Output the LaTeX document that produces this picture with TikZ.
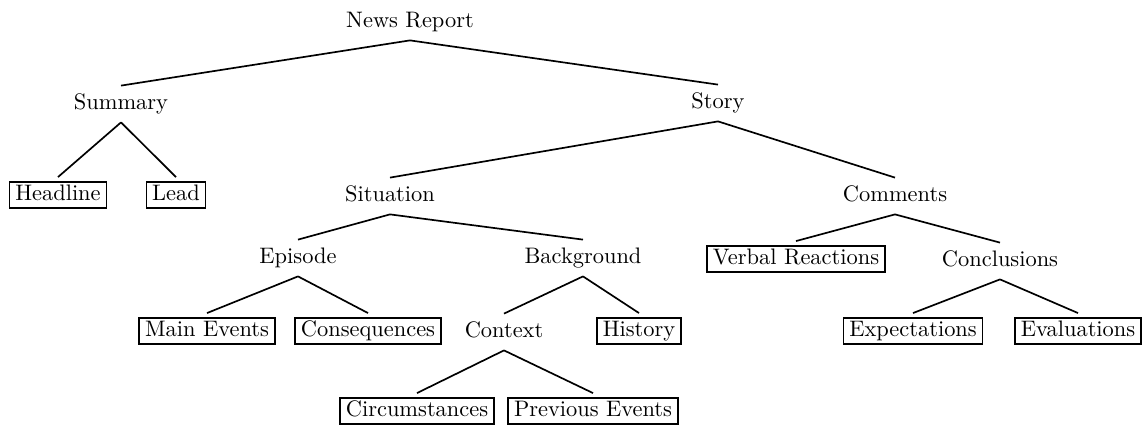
\documentclass[tikz,border=0pt]{standalone}
\usepackage{tikz}
\usetikzlibrary{positioning}

\tikzset{
  catnode/.style={inner xsep=2pt, inner ysep=3.5pt, text height=7pt, text depth=2pt},
  leafbox/.style={draw, line width=0.75pt, inner xsep=2.6pt, inner ysep=1.3pt, outer sep=2.2pt,
                  text height=7pt, text depth=2pt},
  treeedge/.style={line width=0.75pt}
}

\begin{document}
\begin{tikzpicture}[x=0.446pt, y=-0.446pt]
  \useasboundingbox (0,0) rectangle (1145,425);
  % inner categories
  \node[catnode] (news)        at (410,22)  {News Report};
  \node[catnode] (summary)     at (121,104) {Summary};
  \node[catnode] (story)       at (718,103) {Story};
  \node[catnode] (situation)   at (390,196) {Situation};
  \node[catnode] (comments)    at (895,196) {Comments};
  \node[catnode] (episode)     at (298,258) {Episode};
  \node[catnode] (background)  at (583,258) {Background};
  \node[catnode] (conclusions) at (1000,261) {Conclusions};
  \node[catnode] (context)     at (504,332) {Context};
  % terminal categories
  \node[leafbox] (headline)      at (58,195)  {Headline};
  \node[leafbox] (lead)          at (176,195) {Lead};
  \node[leafbox] (verbal)        at (796,259) {Verbal Reactions};
  \node[leafbox] (mainevents)    at (207,331) {Main Events};
  \node[leafbox] (consequences)  at (368,331) {Consequences};
  \node[leafbox] (history)       at (639,331) {History};
  \node[leafbox] (expectations)  at (913,331) {Expectations};
  \node[leafbox] (evaluations)   at (1078,331) {Evaluations};
  \node[leafbox] (circumstances) at (417,411) {Circumstances};
  \node[leafbox] (previous)      at (593,411) {Previous Events};
  % edges
  \foreach \p/\c in {news/summary, news/story, summary/headline, summary/lead,
      story/situation, story/comments, situation/episode, situation/background,
      comments/verbal, comments/conclusions, episode/mainevents,
      episode/consequences, background/context, background/history,
      conclusions/expectations, conclusions/evaluations,
      context/circumstances, context/previous}
    \draw[treeedge] (\p.south) -- (\c.north);
\end{tikzpicture}
\end{document}
